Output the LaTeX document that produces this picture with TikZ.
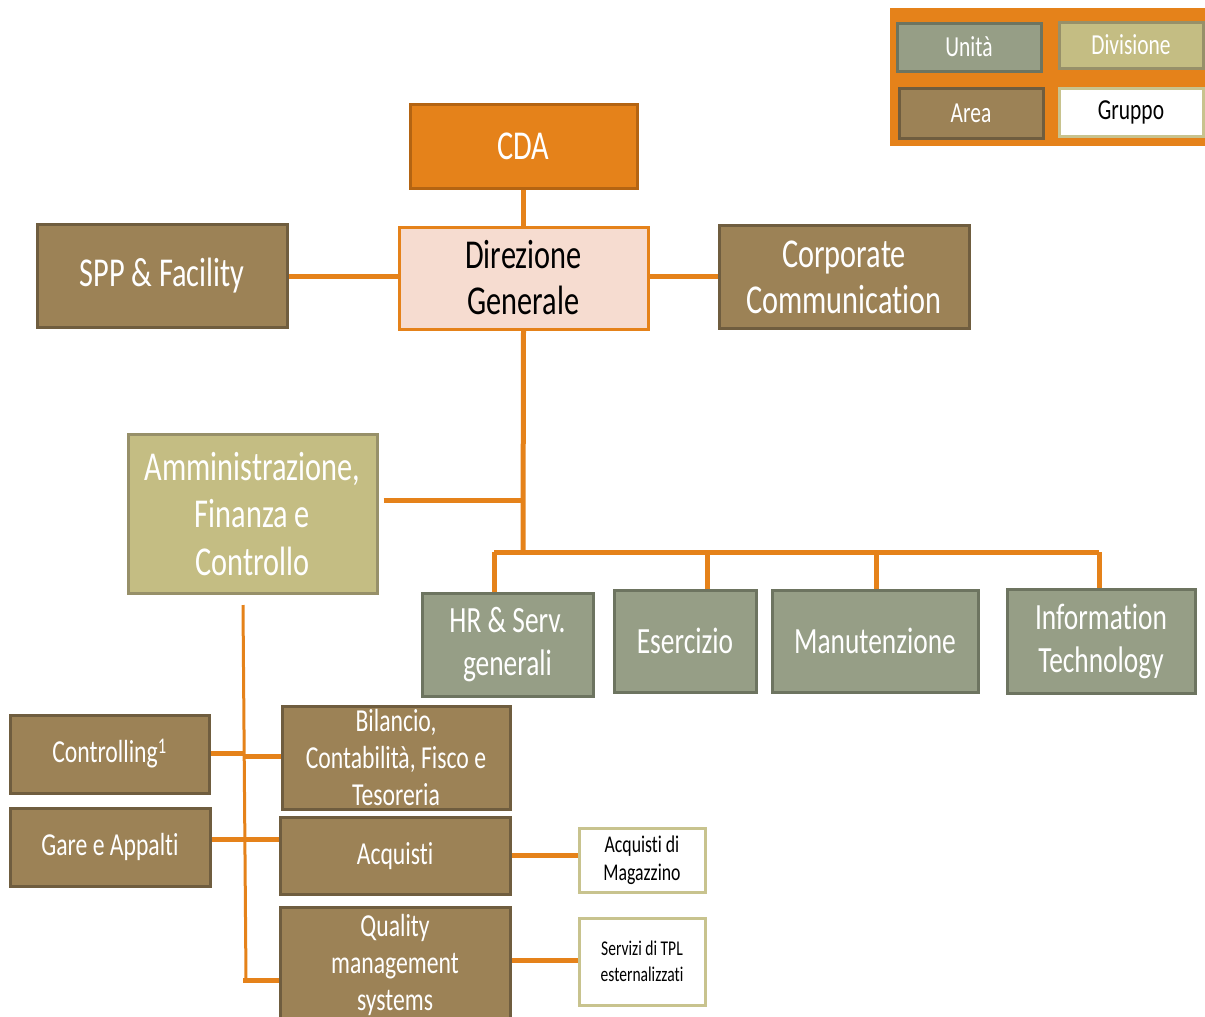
\documentclass[tikz,border=0pt]{standalone}
\usepackage{fontspec}
\setmainfont{Carlito}[FakeStretch=0.74, RawFeature={-liga;-clig;-calt;-dlig}]
\definecolor{org}{RGB}{229,130,26}
\definecolor{cdaborder}{RGB}{180,100,18}
\definecolor{dgfill}{RGB}{246,220,208}
\definecolor{areafill}{RGB}{156,130,86}
\definecolor{areaborder}{RGB}{111,93,63}
\definecolor{divfill}{RGB}{196,189,131}
\definecolor{divborder}{RGB}{151,144,105}
\definecolor{unitfill}{RGB}{150,158,134}
\definecolor{unitborder}{RGB}{109,116,96}
\definecolor{grpborder}{RGB}{200,195,142}
\tikzset{
  box/.style={rectangle, inner sep=0pt, line width=3pt, align=center},
  areabox/.style={box, fill=areafill, draw=areaborder, text=white},
  divbox/.style={box, fill=divfill, draw=divborder, text=white},
  unitbox/.style={box, fill=unitfill, draw=unitborder, text=white},
  grpbox/.style={box, fill=white, draw=grpborder, text=black},
  big/.style={font=\fontsize{41}{46}\selectfont},
  mid/.style={font=\fontsize{37}{43}\selectfont},
  small/.style={font=\fontsize{32}{37}\selectfont},
  tiny/.style={font=\fontsize{24}{28}\selectfont},
  leg/.style={font=\fontsize{29}{30}\selectfont},
  conn/.style={draw=org, line width=5pt},
  spine/.style={draw=org, line width=3pt}
}
\begin{document}
\begin{tikzpicture}[x=1pt,y=-1pt]
\useasboundingbox (0,0) rectangle (1205,1017);
\clip (0,0) rectangle (1205,1017);
% legend
\node[rectangle, fill=org, inner sep=0pt, minimum width=315pt, minimum height=138pt] (legend) at (1047.5,77) {};
\node[unitbox, leg, minimum width=144pt, minimum height=48pt] (lunit) at (969,47) {Unità};
\node[divbox, leg, minimum width=144pt, minimum height=46pt] (ldiv) at (1131,45) {Divisione};
\node[areabox, leg, minimum width=144pt, minimum height=50pt] (larea) at (971,113) {Area};
\node[grpbox, leg, minimum width=144pt, minimum height=48pt] (lgrp) at (1131,112) {Gruppo};
% top
\node[box, big, fill=org, draw=cdaborder, text=white, minimum width=227pt, minimum height=84pt] (cda) at (523.5,146) {CDA};
\node[box, big, fill=dgfill, draw=org, text=black, minimum width=249pt, minimum height=102pt] (dg) at (523.5,278) {Direzione\\Generale};
\node[areabox, big, minimum width=250pt, minimum height=103pt] (spp) at (162,276) {SPP \& Facility};
\node[areabox, big, minimum width=250pt, minimum height=103pt] (cc) at (844,277) {Corporate\\Communication};
\node[divbox, big, minimum width=249pt, minimum height=159pt, font=\fontsize{41}{47.5}\selectfont] (afc) at (252.5,514) {Amministrazione,\\Finanza e\\Controllo};
% units
\node[unitbox, mid, minimum width=171pt, minimum height=103pt] (hr) at (507.5,645) {HR \& Serv.\\generali};
\node[unitbox, mid, minimum width=142pt, minimum height=102pt] (ese) at (685,641) {Esercizio};
\node[unitbox, mid, minimum width=206pt, minimum height=102pt] (man) at (875,641) {Manutenzione};
\node[unitbox, mid, minimum width=188pt, minimum height=104pt] (it) at (1101,641.5) {Information\\Technology};
% areas under AFC
\node[areabox, small, minimum width=199pt, minimum height=78pt] (ctrl) at (109.5,754) {Controlling\textsuperscript{1}};
\node[areabox, small, minimum width=200pt, minimum height=78pt] (gare) at (110,847) {Gare e Appalti};
\node[areabox, small, minimum width=228pt, minimum height=103pt] (bil) at (396,757.5) {Bilancio,\\Contabilità, Fisco e\\Tesoreria};
\node[areabox, small, minimum width=230pt, minimum height=77pt] (acq) at (395,856) {Acquisti};
\node[areabox, small, minimum width=230pt, minimum height=116pt] (qms) at (395,965) {Quality\\management\\systems};
% groups
\node[grpbox, tiny, minimum width=126pt, minimum height=64pt] (mag) at (642,860) {Acquisti di\\Magazzino};
\node[grpbox, font=\fontsize{21}{25.5}\selectfont, minimum width=126pt, minimum height=87pt] (serv) at (642,961.5) {Servizi di TPL\\esternalizzati};
% connectors
\draw[conn] (cda.south) -- (dg.north);
\coordinate (h1) at (523,276);
\draw[conn] (dg.west |- h1) -- (spp.east |- h1);
\draw[conn] (dg.east |- h1) -- (cc.west |- h1);
\coordinate (j1) at (523,500);
\coordinate (j2) at (523,552);
\draw[conn] (dg.south) -- (j2);
\draw[conn] ([xshift=5pt]afc.east |- j1) -- (j1);
\coordinate (bhr) at (494,552);
\coordinate (bese) at (707,552);
\coordinate (bman) at (876,552);
\coordinate (bit) at (1099,552);
\draw[conn] (bhr) -- (bit);
\draw[conn] (bhr) -- (bhr |- hr.north);
\draw[conn] (bese) -- (bese |- ese.north);
\draw[conn] (bman) -- (bman |- man.north);
\draw[conn] (bit) -- (bit |- it.north);
% left spine
\coordinate (s1) at (243,605);
\coordinate (s2) at (246,980);
\draw[spine] (s1) -- (s2);
\coordinate (c1) at (245,753);
\coordinate (c2) at (245,756);
\coordinate (g1) at (245,839);
\draw[conn] (ctrl.east |- c1) -- (c1);
\draw[conn] (c2) -- (bil.west |- c2);
\draw[conn] (gare.east |- g1) -- (acq.west |- g1);
\draw[conn] ([xshift=-3pt]s2) -- (qms.west |- s2);
\coordinate (m1) at (545,855);
\coordinate (m2) at (545,960);
\draw[conn] (acq.east |- m1) -- (mag.west |- m1);
\draw[conn] (qms.east |- m2) -- (serv.west |- m2);
\end{tikzpicture}
\end{document}
